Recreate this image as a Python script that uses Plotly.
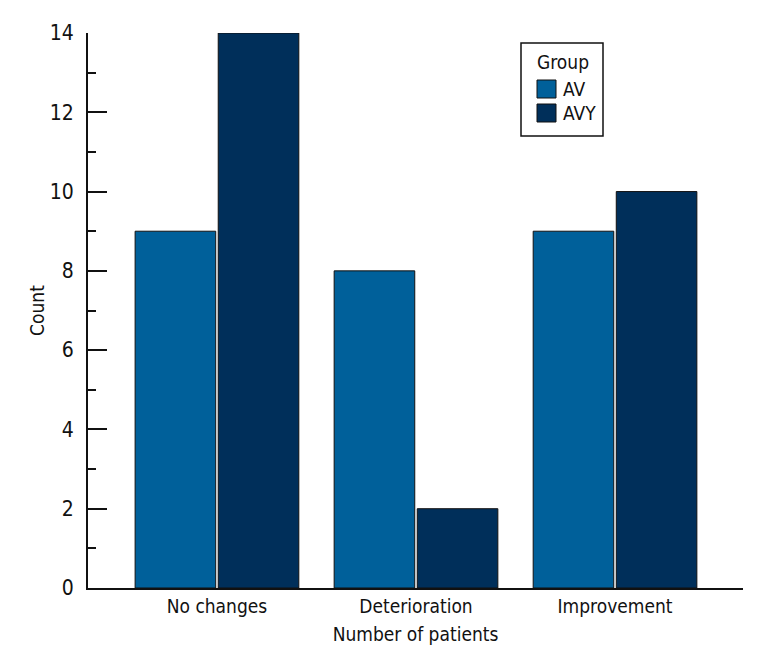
import plotly.graph_objects as go

categories = ["No changes", "Deterioration", "Improvement"]
av_counts = [9, 8, 9]
avy_counts = [14, 2, 10]
y_ticks = [0, 2, 4, 6, 8, 10, 12, 14]
series_names = ["AV", "AVY"]
series_colors = ["#00609A", "#002F5A"]

FONT = "DejaVu Sans Condensed"
W, H = 768, 672
OFF = 8  # page body margin offset
# desired plot area in page pixels: x 88..743, y 33..588
L = 88 - OFF
R = W - (743 - OFF)
T = 33 - OFF
B = H - (588 - OFF)

fig = go.Figure()
for name, vals, col in zip(series_names, [av_counts, avy_counts], series_colors):
    fig.add_trace(go.Bar(x=categories, y=vals, name=name, showlegend=False,
                         marker=dict(color=col, line=dict(color="#111111", width=1))))

# manual legend (paper coordinates computed from page pixels)
pw, ph = W - L - R, H - T - B
def px(x):
    return (x - OFF - L) / pw
def py(y):
    return (H - B - (y - OFF)) / ph

shapes = [dict(type="rect", xref="paper", yref="paper",
               x0=px(521), x1=px(603), y0=py(136), y1=py(43),
               line=dict(color="#111111", width=1.5), fillcolor="white", layer="above")]
annotations = [dict(text="Group", xref="paper", yref="paper", x=px(535), y=py(62),
                    xanchor="left", yanchor="middle", showarrow=False,
                    font=dict(size=19, family=FONT, color="#111111"))]
for i, (name, col) in enumerate(zip(series_names, series_colors)):
    yc = 89 + i * 24
    shapes.append(dict(type="rect", xref="paper", yref="paper",
                       x0=px(537), x1=px(556), y0=py(yc + 9), y1=py(yc - 9),
                       line=dict(color="#111111", width=1), fillcolor=col, layer="above"))
    annotations.append(dict(text=name, xref="paper", yref="paper", x=px(561), y=py(yc),
                            xanchor="left", yanchor="middle", showarrow=False,
                            font=dict(size=19, family=FONT, color="#111111")))

fig.update_layout(
    width=W, height=H,
    margin=dict(l=L, r=R, t=T, b=B, autoexpand=False),
    paper_bgcolor="white", plot_bgcolor="white",
    font=dict(family=FONT, size=20, color="#111111"),
    barmode="group", bargap=0.165, bargroupgap=0.03,
    showlegend=False,
    shapes=shapes, annotations=annotations,
    xaxis=dict(
        range=[-0.648, 2.643], automargin=False,
        showline=True, linecolor="#111111", linewidth=2,
        ticks="", showgrid=False, zeroline=False,
        tickfont=dict(size=19),
        title=dict(text="Number of patients", font=dict(size=19), standoff=12),
    ),
    yaxis=dict(
        range=[0, 14], tickvals=y_ticks, automargin=False,
        showline=True, linecolor="#111111", linewidth=2,
        ticks="inside", ticklen=19, tickwidth=2, tickcolor="#111111",
        minor=dict(dtick=1, ticks="inside", ticklen=8, tickwidth=2, tickcolor="#111111"),
        showgrid=False, zeroline=False,
        tickfont=dict(size=21), ticklabelstandoff=8,
        title=dict(text="Count", font=dict(size=19), standoff=0),
    ),
)

fig.write_html("out.html")
